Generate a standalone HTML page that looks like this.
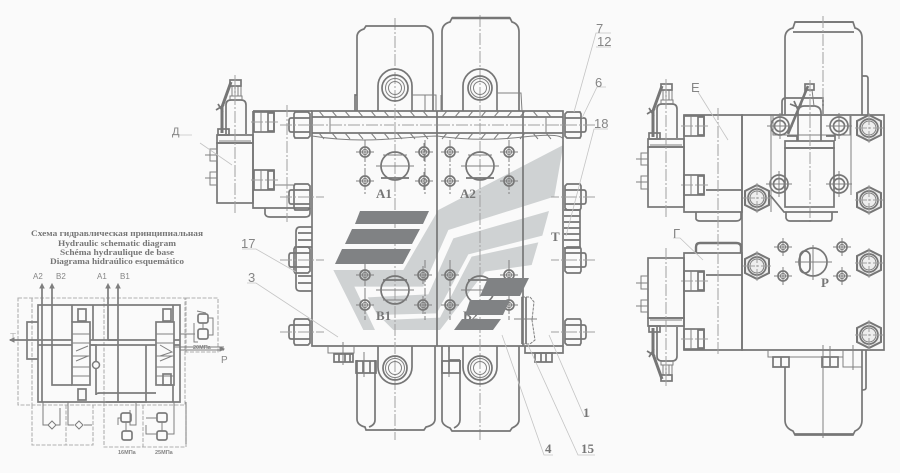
<!DOCTYPE html>
<html><head><meta charset="utf-8"><style>
html,body{margin:0;padding:0;background:#fafafa}
svg{display:block}
.m{fill:none;stroke:#767676;stroke-width:1.7}
.t{fill:none;stroke:#808080;stroke-width:1}
.c{fill:none;stroke:#a0a0a0;stroke-width:1;stroke-dasharray:12 2 2 2}
.l{fill:none;stroke:#c4c4c4;stroke-width:.8}
.d{fill:none;stroke:#b0b0b0;stroke-width:1.1;stroke-dasharray:4 1.5}
.s{fill:none;stroke:#7c7c7c;stroke-width:1.7}
.h{fill:#eeeeee;stroke:#767676;stroke-width:2}
text{font-family:"Liberation Sans",sans-serif;fill:#858585}
.b{font-family:"Liberation Serif",serif;font-weight:bold;fill:#767676}
</style></head><body>
<svg xmlns="http://www.w3.org/2000/svg" width="900" height="473" viewBox="0 0 900 473">
<defs>
<g id="port"><circle r="5" class="m"/><circle r="2.6" class="t"/><path d="M-9 0H9M0-9V9" class="t"/></g>
<g id="nutL"><path d="M-7-13H6L8-11V11L6 13H-7L-8 11V-11Z M-8-7H8M-8 7H8" class="m"/><path d="M-8-7H-11Q-13-7-13-4V4Q-13 7-11 7H-8" class="m"/><path d="M-22 0H22" class="c"/></g>
<g id="hex"><path d="M0-13L12-7V7L0 13L-12 7V-7Z" class="h"/><circle r="9" class="m"/><circle r="7" class="t"/><path d="M-14 0H14M0-15V15" class="c"/></g>
<g id="bolt"><circle r="9" class="m"/><circle r="5.5" class="m"/><path d="M-13 0H13M0-13V13" class="t"/></g>
<g id="block"><rect width="20" height="20" class="m"/><rect x="14" y="1" width="6" height="18" class="m"/><path d="M7 0V20" class="t"/><path d="M-3 10H24" class="c"/></g>
<g id="sol">
<rect x="0" y="0" width="36" height="60" class="m"/>
<rect x="0" y="-8" width="36" height="8" class="m"/><path d="M2-2H34" class="t"/>
<rect x="-7" y="6" width="7" height="12" class="t"/><rect x="-7" y="29" width="7" height="13" class="t"/>
<path d="M-12 12H0M-12 35H0" class="t"/>
<path d="M9-9V-38Q9-43 14-43H24Q29-43 29-38V-9" class="m"/>
<path d="M13-43V-47H25V-43M15-47V-57H24V-47M18-57V-47M21-57V-47" class="t"/>
<rect x="13" y="-63" width="11" height="6" class="m"/>
<path d="M14-61L5-36V-10" stroke="#767676" stroke-width="3" fill="none"/>
<path d="M-1-33L7-38M1-39L6-31" class="m"/>
<rect x="1" y="-14" width="11" height="6" class="m"/>
<path d="M18-68V70" class="c"/>
</g>
</defs>
<rect width="900" height="473" fill="#fafafa"/>

<!-- logo -->
<g transform="translate(325,135) scale(.33333)" fill="#cfd2d3">
<polygon points="715,30 340,225 235,405 25,405 115,585 150,585 88,455 295,455 370,285 688,185"/>
<polygon points="672,228 385,310 310,478 128,487 157,540 335,535 430,358 652,302"/>
<polygon points="640,322 440,365 345,548 175,555 205,585 345,585 480,410 620,390"/>
</g>

<!-- middle body -->
<path d="M312 111H563V346H312Z" class="m"/>
<path d="M312 117H563M312 133H563" class="m"/>
<path d="M312 136Q350 142 390 139T437 136Q480 142 523 137T563 141" class="t"/>
<path d="M319 111l5 6M332 111l5 6M345 111l5 6M358 111l5 6M371 111l5 6M384 111l5 6M397 111l5 6M410 111l5 6M423 111l5 6M442 117l5-6M455 117l5-6M468 117l5-6M481 117l5-6M494 117l5-6M507 117l5-6M520 117l5-6M533 111l5 6M546 111l5 6M319 133l5 6M332 133l5 6M345 133l5 6M358 133l5 6M371 133l5 6M384 133l5 6M397 133l5 6M410 133l5 6M423 133l5 6M442 139l5-6M455 139l5-6M468 139l5-6M481 139l5-6M494 139l5-6M507 139l5-6M520 139l5-6M533 133l5 6M546 133l5 6" class="t"/>
<path d="M437 111V346M523 111V346" class="m"/>
<path d="M330 117V133M546 117V133" class="t"/>
<path d="M312 125H563" class="c"/>
<path d="M395 18V440M480 15V440" class="c"/>
<path d="M365 140V195M365 260V320M425 140V195M425 260V320M450 140V195M450 260V320M509 140V195M509 260V320" class="t" stroke-dasharray="8 2 2 2"/>

<!-- top cylinders -->
<path d="M357 111V37Q357 31 364 29L366 26H425Q433 28 433 36V111" class="m"/>
<path d="M355 111V95H357" class="m"/>
<path d="M442 111V32Q442 24 450 22L452 18H510L512 22Q519 24 519 32V111" class="m"/>
<path d="M452 18H510" stroke="#767676" stroke-width="2.4"/>
<path d="M378 111V86A17 17 0 0 1 412 86V111" class="m"/>
<circle cx="395" cy="88" r="13" class="m"/><circle cx="395" cy="88" r="9.5" class="t"/><circle cx="395" cy="88" r="6.5" class="t"/>
<path d="M463 111V86A17 17 0 0 1 497 86V111" class="m"/>
<circle cx="480" cy="88" r="12" class="m"/><circle cx="480" cy="88" r="9.5" class="t"/><circle cx="480" cy="88" r="6.5" class="t"/>
<path d="M412 111V95H436V111M497 111V93H521L522 111M425 95V111" class="t"/>
<path d="M441 111V95" class="t"/>

<!-- ports -->
<circle cx="395" cy="166" r="14" class="m"/><path d="M381 178H409" class="m"/><path d="M376 166H414M383 155H407" class="t"/>
<circle cx="480" cy="166" r="14" class="m"/><path d="M466 178H494" class="m"/><path d="M461 166H499M468 155H492" class="t"/>
<circle cx="395" cy="290" r="14" class="m"/><path d="M383 280H407" class="m"/><path d="M376 290H414M383 300H407" class="t"/>
<circle cx="480" cy="290" r="14" class="m"/><path d="M468 280H492" class="m"/><path d="M461 290H499" class="t"/>
<use href="#port" x="365" y="152"/><use href="#port" x="365" y="181"/><use href="#port" x="424" y="152"/><use href="#port" x="424" y="181"/>
<use href="#port" x="450" y="152"/><use href="#port" x="450" y="181"/><use href="#port" x="509" y="152"/><use href="#port" x="509" y="181"/>
<use href="#port" x="365" y="275"/><use href="#port" x="365" y="305"/><use href="#port" x="423" y="275"/><use href="#port" x="423" y="305"/>
<use href="#port" x="450" y="275"/><use href="#port" x="450" y="305"/><use href="#port" x="509" y="275"/><use href="#port" x="509" y="305"/>

<text x="376" y="198" class="b" font-size="13">A1</text>
<text x="460" y="198" class="b" font-size="13">A2</text>
<text x="376" y="320" class="b" font-size="13">B1</text>
<text x="463" y="320" class="b" font-size="13">B2</text>
<text x="551" y="241" class="b" font-size="13">T</text>

<!-- dark logo bars -->
<polygon points="360,211 429,211 423,224 355,224" fill="#808284"/>
<polygon points="352,229 420,229 412,244 345,244" fill="#808284"/>
<polygon points="342,249 411,249 403,264 335,264" fill="#808284"/>
<polygon points="488,278 529,278 520,296 480,296" fill="#808284"/>
<polygon points="470,300 510,300 503,315 465,315" fill="#808284"/>
<polygon points="462,319 501,319 493,330 454,330" fill="#808284"/>

<!-- bottom middle -->
<path d="M378 346V367A17 17 0 0 0 412 367V346" class="m"/>
<circle cx="395" cy="368" r="12" class="m"/><circle cx="395" cy="368" r="9.5" class="t"/><circle cx="395" cy="368" r="6.5" class="t"/>
<path d="M463 346V367A17 17 0 0 0 497 367V346" class="m"/>
<circle cx="480" cy="368" r="12" class="m"/><circle cx="480" cy="368" r="9.5" class="t"/><circle cx="480" cy="368" r="6.5" class="t"/>
<path d="M357 360V419Q357 425 365 427L366 430H424L426 427Q435 425 435 419V346" class="m"/>
<path d="M375 360V420Q375 425 369 427" class="m"/>
<path d="M442 346V420Q442 425 450 428L452 431H510L512 428Q519 425 519 420V346" class="m"/>
<path d="M460 360V420Q460 425 454 428M449 346V360H460" class="m"/>
<path d="M356 361H376V373H356Z M363 361V373M370 361V373" class="m"/>
<path d="M364 352V377M449 352V377" class="t"/>
<path d="M442 361H460V373H442ZM449 361V373" class="m"/>
<path d="M328 346V353H354V346M354 346V353" class="t"/>
<path d="M334 354H353V362H334ZM339 354V362M345 354V362M350 354V362" class="m"/>
<path d="M343 342V365" class="t"/>
<path d="M525 346V353H563V346" class="m"/>
<path d="M535 353H552V362H535ZM541 353V362M546 353V362" class="m"/>
<!-- side valve 15 -->
<path d="M522 297H530L534 302L532 320L535 340L530 344H522Z" class="t" stroke-dasharray="3 1"/>
<path d="M522 297V344M526 297V344" class="m"/>
<path d="M514 319H537" class="t"/>

<!-- left assembly -->
<use href="#sol" x="217" y="143"/>
<path d="M253 111V208H310" class="m"/><path d="M253 111H312" class="m"/>
<use href="#block" x="254" y="112"/><use href="#block" x="254" y="170"/>
<path d="M274 185H295" class="t"/>
<path d="M265 208V214Q266 217 270 217H305Q310 217 310 213V208" class="m"/>
<path d="M287 105V222" class="c"/>
<use href="#nutL" x="302" y="125"/><use href="#nutL" x="302" y="197"/>
<path d="M312 227H300Q296 227 296 232V287Q296 291 300 291H312M298 233H312M298 240H312M298 247H312M298 276H312M298 283H312" class="m"/>
<use href="#nutL" x="302" y="260"/>
<use href="#nutL" x="302" y="332"/>

<!-- right nuts -->
<g transform="translate(573,125) scale(-1,1)"><use href="#nutL"/></g>
<g transform="translate(573,197) scale(-1,1)"><use href="#nutL"/></g>
<path d="M564 210H580V248H564M564 216H580M564 222H580M564 228H580M564 234H580M564 240H580" class="m"/>
<g transform="translate(573,260) scale(-1,1)"><use href="#nutL"/></g>
<g transform="translate(573,332) scale(-1,1)"><use href="#nutL"/></g>

<!-- right view -->
<path d="M742 115H884V350H742Z" class="m"/>
<path d="M684 115H742V212H684ZM684 253H742V350H684Z" class="m"/>
<path d="M706 190H742M706 275H742" class="m"/>
<path d="M696 212V219Q697 221 700 221H736Q740 221 741 218V212" class="m"/>
<path d="M696 253V247Q696 243 700 243H736Q741 243 741 247V253" stroke="#767676" stroke-width="2.4" fill="none"/>
<use href="#block" x="684" y="116"/><use href="#block" x="684" y="175"/>
<use href="#block" x="684" y="271"/><use href="#block" x="684" y="329"/>
<path d="M718 108V355" class="c"/>
<use href="#sol" x="648" y="147"/>
<g transform="translate(648,318) scale(1,-1)"><use href="#sol"/></g>

<!-- top cylinder right -->
<path d="M785 115V38Q785 30 793 28L795 22H853L855 28Q862 30 862 38V115" class="m"/>
<path d="M793 32H854M795 22H853" class="m"/>
<path d="M862 76H866Q868 76 868 79V115" class="m"/>
<path d="M782 115V102Q782 98 786 98H823V115" class="m"/>
<path d="M773 115V135H850V115M851 115V135" class="t"/>
<path d="M823 16V115" class="c"/>
<!-- top solenoid right -->
<rect x="785" y="148" width="49" height="59" class="m" stroke-width="1.8"/>
<path d="M785 141H834V148H785ZM787 136H797V141M826 136H835V141" class="m"/>
<path d="M798 141V110Q800 106 804 106H815Q821 107 821 113V141" class="m"/>
<path d="M801 106L805 90H812L814 106" class="t"/>
<rect x="805" y="84" width="9" height="6" class="m"/>
<path d="M808 86L788 134" stroke="#767676" stroke-width="2.6"/>
<path d="M790 104L800 108M794 101L798 110" class="m"/>
<path d="M810 80V222" class="c"/>
<path d="M770 195L784 212H838M786 212V218Q787 221 790 221H830Q832 221 832 218V212" class="m"/>
<use href="#bolt" x="780" y="126"/><use href="#bolt" x="839" y="126"/><use href="#bolt" x="779" y="184"/><use href="#bolt" x="839" y="184"/>
<path d="M771 115V212M851 115V195" class="t"/>
<use href="#hex" x="869" y="128"/><use href="#hex" x="757" y="198"/><use href="#hex" x="869" y="200"/>
<use href="#hex" x="757" y="266"/><use href="#hex" x="869" y="263"/><use href="#hex" x="869" y="335"/>
<!-- port right -->
<circle cx="813" cy="262" r="14" class="m"/>
<rect x="800" y="251" width="10" height="22" rx="5" class="m"/>
<path d="M795 262H832M813 245V280" class="t"/>
<use href="#port" x="783" y="247"/><use href="#port" x="842" y="247"/><use href="#port" x="783" y="276"/><use href="#port" x="842" y="276"/>
<text x="821" y="287" class="b" font-size="13">P</text>
<!-- lower right -->
<path d="M768 350V357H843V350M843 350V367H862V350" class="t"/>
<path d="M773 357H789V367H773ZM781 357V367M822 357H838V367H822ZM830 357V367" class="m"/>
<path d="M785 367V420Q785 428 793 431L795 435H853L855 431Q862 428 862 420V350" class="m"/>
<path d="M795 434H853" stroke="#767676" stroke-width="1.8"/>
<path d="M866 350V388Q866 390 862 390" class="m"/>
<path d="M823 345V438M830 346V367M853 345V370" class="t"/>

<!-- leaders -->
<path d="M611 33H596L574 112M611 47H596" class="l"/>
<path d="M606 87H597L582 118" class="l"/>
<path d="M608 129H594L566 236" class="l"/>
<path d="M242 249H256L296 272" class="l"/>
<path d="M247 283H256L338 337" class="l"/>
<path d="M553 455H544L502 335" class="l"/>
<path d="M595 455H578L528 345" class="l"/>
<path d="M590 416H584L549 335" class="l"/>
<path d="M200 143L232 165M172 135H192" class="l"/>
<path d="M698 92L728 140" class="l"/>
<path d="M673 238H680L703 260" class="l"/>
<text x="596" y="33" font-size="13">7</text>
<text x="597" y="46" font-size="13">12</text>
<text x="595" y="87" font-size="13">6</text>
<text x="594" y="128" font-size="13">18</text>
<text x="241" y="248" font-size="13">17</text>
<text x="248" y="282" font-size="13">3</text>
<text x="583" y="417" font-size="13" class="b">1</text>
<text x="545" y="453" font-size="13" class="b">4</text>
<text x="581" y="453" font-size="13" class="b">15</text>
<text x="172" y="135" font-size="11">Д</text>
<text x="691" y="92" font-size="13">Е</text>
<text x="673" y="238" font-size="13">Г</text>

<!-- schematic -->
<text x="117" y="236" class="b" font-size="8" text-anchor="middle" textLength="172" lengthAdjust="spacingAndGlyphs">Схема гидравлическая принципиальная</text>
<text x="117" y="246" class="b" font-size="8" text-anchor="middle" textLength="118" lengthAdjust="spacingAndGlyphs">Hydraulic schematic diagram</text>
<text x="117" y="255" class="b" font-size="8" text-anchor="middle" textLength="114" lengthAdjust="spacingAndGlyphs">Schéma hydraulique de base</text>
<text x="117" y="264" class="b" font-size="8" text-anchor="middle" textLength="134" lengthAdjust="spacingAndGlyphs">Diagrama hidraúlico esquemático</text>
<text x="33" y="279" font-size="8">A2</text><text x="56" y="279" font-size="8">B2</text>
<text x="97" y="279" font-size="8">A1</text><text x="120" y="279" font-size="8">B1</text>
<text x="10" y="340" font-size="10" style="fill:#bbb">T</text>
<text x="221" y="363" font-size="10">P</text>
<text x="193" y="349" font-size="5.5" font-weight="bold">20МПа</text>
<text x="118" y="454" font-size="5.5" font-weight="bold">16МПа</text>
<text x="155" y="454" font-size="5.5" font-weight="bold">25МПа</text>
<path d="M18 298H185V405H18ZM186 298H218V352H186ZM32 298V405M32 405V445H93V405M66 405V445M104 298V447H186V405M143 405V447" class="d"/>
<path d="M38 305H180V402H38ZM38 322H27V359H38M10 340H180M38 345H180M42 285V402M52 285V385H72" class="s"/>
<path d="M108 285V340M108 340H117M118 285V345V402M146 345V402H106M90 345H96V395Q96 393 100 393H156" class="s"/>
<path d="M93 305V340M173 305V402M72 322V305" class="s"/>
<path d="M174 347H224M180 350H224M180 334H195" class="s" style="stroke-width:1"/>
<path d="M10 340l4-2v4ZM42 284l-2 4h4ZM52 284l-2 4h4ZM108 284l-2 4h4ZM118 284l-2 4h4ZM224 349l-4-2v4Z" fill="#7f7f7f" stroke="#7f7f7f"/>
<rect x="72" y="322" width="18" height="63" fill="#fafafa" stroke="#7c7c7c" stroke-width="1.7"/><path d="M72 334H90M72 343H90M72 356H90M72 367H90M72 376H90" class="t"/>
<path d="M76 351L88 346M76 361L88 356" class="t"/>
<rect x="78" y="309" width="8" height="12" class="s"/><rect x="78" y="389" width="8" height="11" class="s"/>
<rect x="156" y="322" width="18" height="63" fill="#fafafa" stroke="#7c7c7c" stroke-width="1.7"/><path d="M156 334H174M156 343H174M156 356H174M156 367H174M156 376H174" class="t"/>
<path d="M160 345L172 352L160 356M160 361L172 356" class="t"/>
<rect x="163" y="309" width="8" height="12" class="s"/><rect x="163" y="374" width="8" height="11" class="s"/>
<circle cx="96" cy="365" r="3.5" fill="#fafafa" stroke="#7c7c7c" stroke-width="1.5"/>
<path d="M43 402V425H48M60 408V425H55M68 402V425H74M92 425H84" class="s" style="stroke-width:1"/>
<path d="M48 425L52 421L56 425L52 429ZM75 425L79 421L83 425L79 429Z" fill="#fafafa" stroke="#7c7c7c"/>
<path d="M136 402V425H130V410M186 402V444" class="t"/>
<rect x="121" y="413" width="10" height="9" rx="2" class="s"/><rect x="122" y="431" width="10" height="9" rx="2" class="s"/>
<rect x="157" y="413" width="10" height="9" rx="2" class="s"/><rect x="157" y="431" width="10" height="9" rx="2" class="s"/>
<path d="M118 425V418H121M126 422V431M162 422V431M146 418H157M146 425V434H157M174 402V434H167" class="t"/>
<rect x="198" y="314" width="10" height="9" rx="2" class="s"/><rect x="198" y="329" width="10" height="10" rx="2" class="s"/>
<path d="M197 311L206 313M203 323V329M194 323V342H198M208 318H213V335H208" class="t"/>
</svg>
</body></html>
